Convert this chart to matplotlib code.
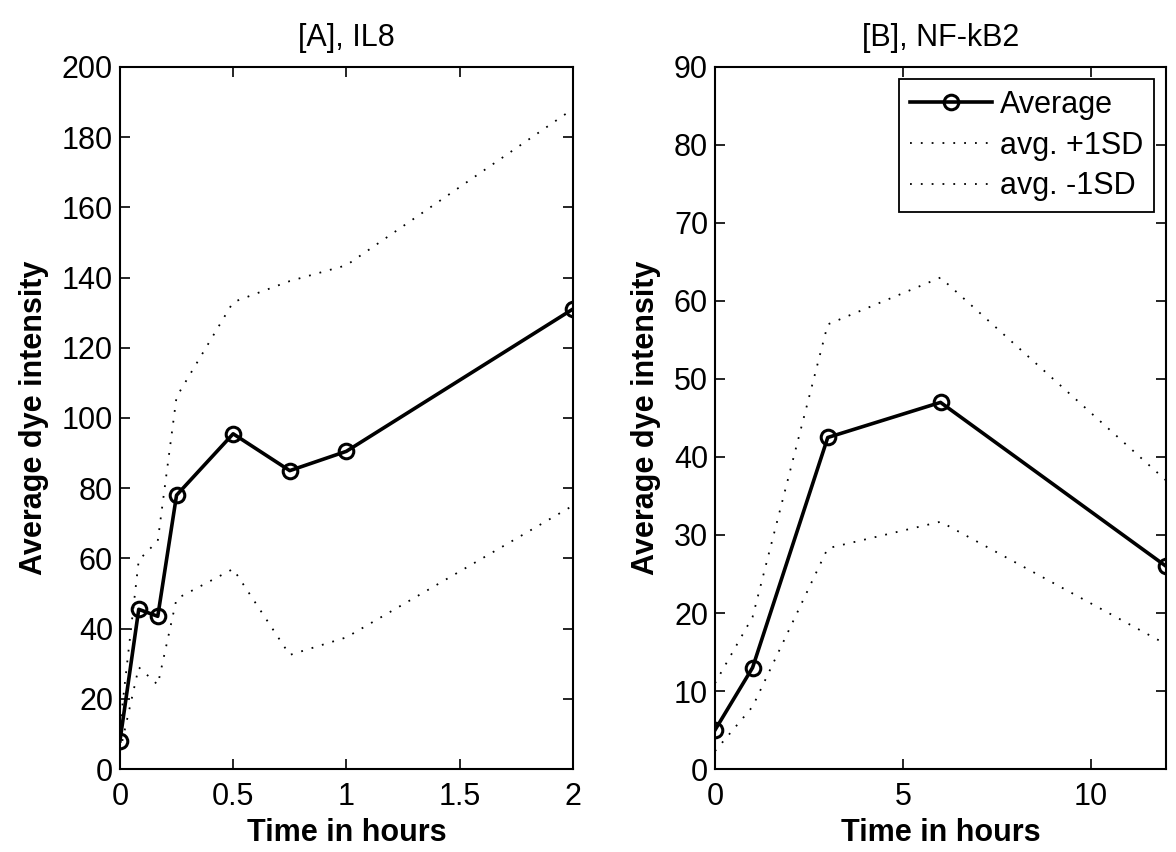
import matplotlib
matplotlib.use("Agg")
import matplotlib.pyplot as plt

plt.rcParams['font.family'] = ['Liberation Sans', 'DejaVu Sans']

# Panel A: IL8
time_a = [0, 0.083, 0.167, 0.25, 0.5, 0.75, 1, 2]
avg_a = [8, 45.5, 43.5, 78, 95.5, 85, 90.5, 131]
upper_a = [12, 59.5, 65, 106, 133, 139, 143.5, 188]
lower_a = [5, 29, 24, 48.5, 57, 32.5, 37.5, 75]

# Panel B: NF-kB2
time_b = [0, 1, 3, 6, 12]
avg_b = [5, 13, 42.5, 47, 26]
upper_b = [11, 19.5, 57, 63, 37]
lower_b = [2.3, 8, 28.3, 31.7, 16]

titles = ['[A], IL8', '[B], NF-kB2']
xlabel = 'Time in hours'
ylabel = 'Average dye intensity'
legend_labels = ['Average', 'avg. +1SD', 'avg. -1SD']

fig = plt.figure(figsize=(11.76, 8.52), dpi=100)
ax1 = fig.add_axes([0.102, 0.0974, 0.385, 0.824])
ax2 = fig.add_axes([0.608, 0.0974, 0.3835, 0.824])

fs = 22
dot = (0, (1, 5))

def draw(ax, t, avg, up, lo, title, xlim, ylim, xticks, yticks, xtl):
    l1, = ax.plot(t, avg, '-o', color='black', lw=2.6, ms=10.5, mfc='none', mew=2.2)
    l2, = ax.plot(t, up, color='black', lw=1.3, linestyle=dot)
    l3, = ax.plot(t, lo, color='black', lw=1.3, linestyle=dot)
    ax.set_xlim(*xlim)
    ax.set_ylim(*ylim)
    ax.set_xticks(xticks)
    ax.set_xticklabels(xtl)
    ax.set_yticks(yticks)
    ax.tick_params(direction='in', top=True, right=True, length=7, width=1.2,
                   labelsize=fs)
    ax.tick_params(axis='x', pad=9)
    ax.tick_params(axis='y', pad=5)
    for s in ax.spines.values():
        s.set_linewidth(1.5)
    ax.set_title(title, fontsize=fs, pad=15)
    ax.set_xlabel(xlabel, fontsize=fs, fontweight='bold', labelpad=5)
    ax.set_ylabel(ylabel, fontsize=fs, fontweight='bold', labelpad=9)
    return l1, l2, l3

draw(ax1, time_a, avg_a, upper_a, lower_a, titles[0], (0, 2), (0, 200),
     [0, 0.5, 1, 1.5, 2], list(range(0, 201, 20)), ['0', '0.5', '1', '1.5', '2'])
handles = draw(ax2, time_b, avg_b, upper_b, lower_b, titles[1], (0, 12), (0, 90),
               [0, 5, 10], list(range(0, 91, 10)), ['0', '5', '10'])

leg = ax2.legend(handles, legend_labels, loc='upper right', fontsize=fs,
                 handlelength=2.7, handletextpad=0.25, borderpad=0.35,
                 labelspacing=0.35, fancybox=False, framealpha=1,
                 edgecolor='black', borderaxespad=0.4)
leg.get_frame().set_linewidth(1.3)

fig.savefig('out.png', dpi=100)
